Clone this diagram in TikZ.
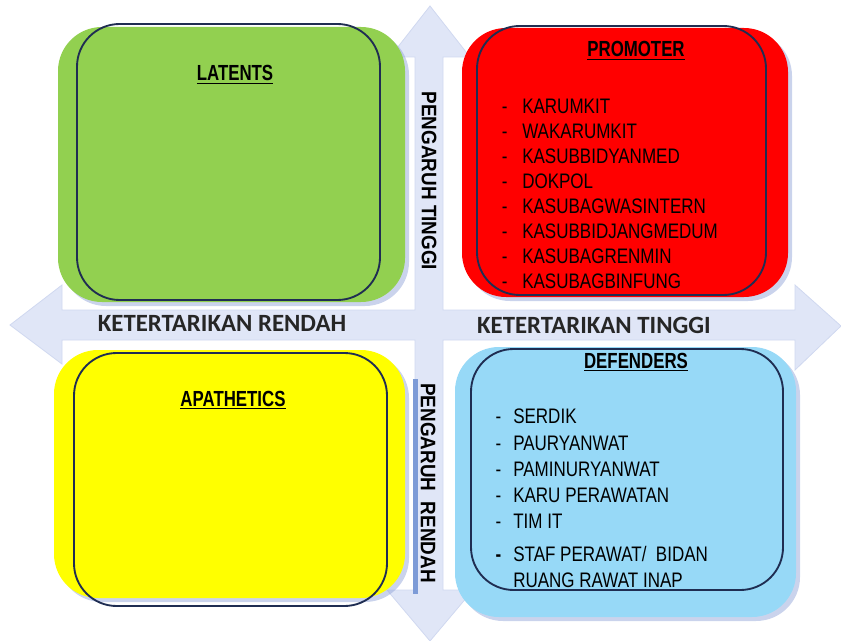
\documentclass[tikz,border=0pt]{standalone}
\usepackage{fontspec}
\setmainfont{Liberation Sans}
\newfontfamily\narrowfont[FakeStretch=0.81]{Liberation Sans}
\newfontfamily\titlefont[FakeStretch=0.77]{Liberation Sans}
\newfontfamily\sidefont[FakeStretch=0.9]{Liberation Sans}
\newfontfamily\axisfont{Carlito}
\definecolor{crossblue}{RGB}{224,230,247}
\definecolor{crossedge}{RGB}{208,216,240}
\definecolor{shadeblue}{RGB}{150,168,218}
\definecolor{rimnavy}{RGB}{31,45,82}
\definecolor{latgreen}{RGB}{146,208,80}
\definecolor{promred}{RGB}{255,0,0}
\definecolor{apayellow}{RGB}{255,255,0}
\definecolor{defblue}{RGB}{151,217,247}
\definecolor{stripblue}{RGB}{125,155,215}
\tikzset{quad/.style = {rounded corners = 33pt}}
\tikzset{shade/.style = {fill = shadeblue, opacity = 0.5, rounded corners = 33pt, xshift = 3pt, yshift = -3pt}}
\tikzset{rim/.style = {draw = rimnavy, line width = 1.4pt, rounded corners = 32pt}}
\tikzset{head/.style = {anchor = base, inner sep = 0, font = \titlefont\bfseries\fontsize{16.4}{18}\selectfont}}
\tikzset{items/.style = {anchor = north west, inner sep = 0, align = left, font = \narrowfont\fontsize{15.75}{18.75}\selectfont}}
\tikzset{axislabel/.style = {anchor = base, inner sep = 0, text = black!85, font = \axisfont\bfseries\fontsize{18.6}{20}\selectfont}}
\tikzset{sidelabel/.style = {rotate = -90, inner sep = 0, font = \sidefont\bfseries\fontsize{15.75}{18}\selectfont}}

\begin{document}
\begin{tikzpicture}[x=0.75pt, y=-0.75pt]
      \useasboundingbox (0, 0) rectangle (841, 641);

      % the four-way arrow behind the quadrants
      \filldraw [fill=crossblue, draw=crossedge, line width=0.6pt]
        (10, 325) -- (62, 285) -- (62, 310) -- (415, 310) -- (415, 57) -- (390, 57) -- (430, 6)
        -- (470, 57) -- (443, 57) -- (443, 310) -- (795, 310) -- (795, 285) -- (841, 326)
        -- (795, 370) -- (795, 340) -- (443, 340) -- (443, 590) -- (473, 590) -- (430, 641)
        -- (387, 590) -- (415, 590) -- (415, 340) -- (62, 340) -- (62, 364) -- cycle;
      \fill [stripblue] (413, 379) rectangle (418, 594);

      % quadrants
      \fill [shade] (58, 27) rectangle (405, 302);
      \fill [latgreen, quad] (58, 27) rectangle (405, 302);
      \draw [rim] (77, 24) rectangle (380, 300);

      \fill [shade] (462, 28) rectangle (788, 297);
      \fill [promred, quad] (462, 28) rectangle (788, 297);
      \draw [rim] (477, 26) rectangle (766, 295);

      \fill [shade] (54, 350) rectangle (405, 598);
      \fill [apayellow, quad] (54, 350) rectangle (405, 598);
      \draw [rim] (74, 353) rectangle (387, 606);

      \fill [shade] (455, 347) rectangle (796, 617);
      \fill [defblue, quad] (455, 347) rectangle (796, 617);
      \draw [rim] (471, 349) rectangle (783, 590);

      % titles
      \node [head] (latents) at (235, 81) {\underline{LATENTS}};
      \node [head] (promoter) at (636, 57) {\underline{PROMOTER}};
      \node [head] (apathetics) at (233, 406) {\underline{APATHETICS}};
      \node [head] (defenders) at (636, 368) {\underline{DEFENDERS}};

      % members
      \node [items] (promlist) at (522, 99) {%
        \llap{-\hspace{11pt}}KARUMKIT\\
        \llap{-\hspace{11pt}}WAKARUMKIT\\
        \llap{-\hspace{11pt}}KASUBBIDYANMED\\
        \llap{-\hspace{11pt}}DOKPOL\\
        \llap{-\hspace{11pt}}KASUBAGWASINTERN\\
        \llap{-\hspace{11pt}}KASUBBIDJANGMEDUM\\
        \llap{-\hspace{11pt}}KASUBAGRENMIN\\
        \llap{-\hspace{11pt}}KASUBAGBINFUNG};
      \node [items, font=\narrowfont\fontsize{15.75}{19.6}\selectfont] (deflist) at (513, 409) {%
        \llap{-\hspace{9pt}}SERDIK\\
        \llap{-\hspace{9pt}}PAURYANWAT\\
        \llap{-\hspace{9pt}}PAMINURYANWAT\\
        \llap{-\hspace{9pt}}KARU PERAWATAN\\
        \llap{-\hspace{9pt}}TIM IT\\[5pt]
        \llap{\textbf{-}\hspace{9pt}}STAF PERAWAT/\ \ BIDAN\\
        RUANG RAWAT INAP};

      % axes
      \node [axislabel] (interestlow) at (222, 331) {KETERTARIKAN RENDAH};
      \node [axislabel] (interesthigh) at (594, 333) {KETERTARIKAN TINGGI};
      \node [sidelabel] (powerhigh) at (429, 181) {PENGARUH TINGGI};
      \node [sidelabel] (powerlow) at (428, 483) {PENGARUH\ \ RENDAH};

    \end{tikzpicture}
\end{document}
